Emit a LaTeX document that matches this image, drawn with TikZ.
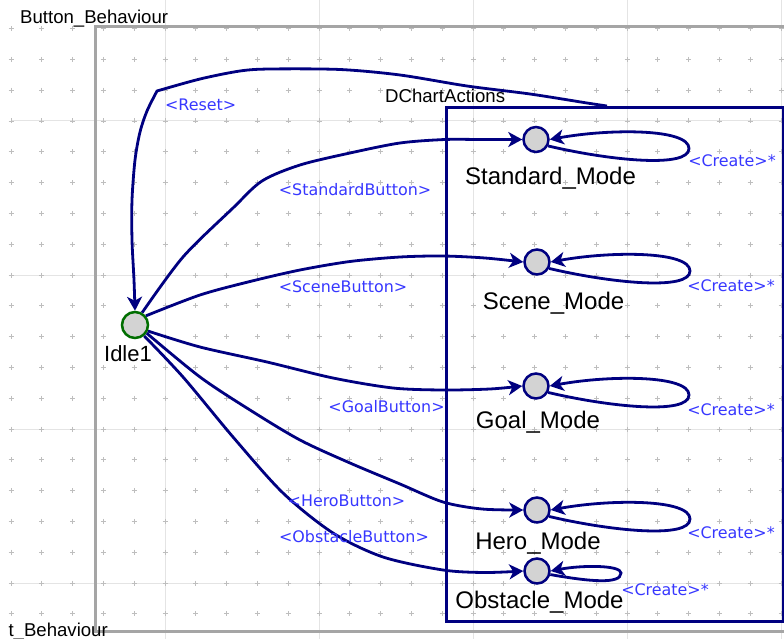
\documentclass[tikz,border=0pt]{standalone}
\usepackage{fontspec}
\setmainfont{Liberation Sans}
\newfontfamily\lblfont{DejaVu Sans}
\usetikzlibrary{arrows.meta,calc}

\definecolor{edgeblue}{RGB}{0,0,128}
\definecolor{lblblue}{RGB}{55,55,255}
\definecolor{framegray}{RGB}{165,165,165}
\definecolor{gridline}{RGB}{228,228,228}
\definecolor{gridmark}{RGB}{190,190,190}
\definecolor{statefill}{RGB}{211,211,211}
\definecolor{idlegreen}{RGB}{0,110,0}

\tikzset{
  mode/.style={circle, draw=edgeblue, line width=2.5bp, fill=statefill,
    minimum size=25bp, inner sep=0pt},
  idlestate/.style={mode, draw=idlegreen, minimum size=26bp},
  statename/.style={font=\fontsize{24bp}{28bp}\selectfont, text=black,
    inner sep=0pt, anchor=base},
  trlabel/.style={font=\lblfont\fontsize{15.9bp}{18bp}\selectfont,
    text=lblblue, inner sep=0pt, anchor=base},
  titletext/.style={font=\fontsize{18.6bp}{22bp}\selectfont, inner sep=0pt},
  trans/.style={draw=edgeblue, line width=2.8bp,
    -{Stealth[length=14bp,width=15bp,inset=4bp]}},
}

\begin{document}
\begin{tikzpicture}[x=1bp,y=-1bp]
\useasboundingbox (0,0) rectangle (784,639);
\clip (0,0) rectangle (784,639);
\fill[white] (0,0) rectangle (784,639);

% background grid: major lines and small crosses
\foreach \gx in {165,319,473,627,781}
  \draw[gridline, line width=1bp] (\gx,0) -- (\gx,639);
\foreach \gy in {121,275,429,583}
  \draw[gridline, line width=1bp] (11,\gy) -- (784,\gy);
\foreach \i in {0,...,25}
  \foreach \j in {0,...,19}
    \draw[gridmark, line width=0.9bp]
      ({11+30.8*\i-2.5},{28.6+30.8*\j}) -- ++(5,0)
      ({11+30.8*\i},{28.6+30.8*\j-2.5}) -- ++(0,5);

% chart frame
\draw[framegray, line width=3bp] (800,27) -- (95,27) -- (95,631) -- (800,631);
\node[titletext, anchor=base west] (title) at (20,23.3) {Button\_Behaviour};
\node[titletext, anchor=base east] (titlecut) at (108,636) {t\_Behaviour};

% DChartActions container
\node[draw=edgeblue, line width=2.6bp, minimum width=337bp, minimum height=514bp,
  inner sep=0pt, anchor=north west] (dca) at (445,106) {};
\node[titletext, anchor=base west] (dcatitle) at (385,103) {DChartActions};

% states
\node[idlestate] (idle) at (135,325) {};
\node[mode] (std)  at (536,139.5) {};
\node[mode] (scn)  at (537,262) {};
\node[mode] (goal) at (536,386) {};
\node[mode] (hero) at (537,510) {};
\node[mode] (obs)  at (537,571) {};

\node[statename] (idlename) at (128,361.5) {\fontsize{22bp}{26bp}\selectfont Idle1};
\node[statename] (stdname)  at (550.5,185) {Standard\_Mode};
\node[statename] (scnname)  at (553.5,309) {Scene\_Mode};
\node[statename] (goalname) at (538,428) {Goal\_Mode};
\node[statename] (heroname) at (538,549) {Hero\_Mode};
\node[statename] (obsname)  at (539.5,608) {Obstacle\_Mode};

% reset transition back to Idle1
\draw[trans] plot[smooth] coordinates {([xshift=162bp]dca.north west) (587,103)
    (530,94) (467,86) (400,75) (340,69.5) (270,69) (240,71) (200,79) (157,91)}
  -- plot[smooth] coordinates {(157,91) (147,111) (140,132) (135,160) (132,200)
    (132,240) (134,280) (idle.north)};

% button transitions
\draw[trans] plot[smooth] coordinates {(idle.60) (183,257) (233,208) (262,181)
    (300,165) (350,153) (400,143) (445,139.5) (480,139.5) (std.west)};
\draw[trans] plot[smooth] coordinates {(idle.40) (200,295) (250,281.5) (300,270)
    (350,261.5) (400,257) (443,256) (485,258) (scn.west)};
\draw[trans] plot[smooth] coordinates {(idle.-25) (200,347) (267,362) (333,378)
    (393,388) (443,390) (490,389) (goal.west)};
\draw[trans] plot[smooth] coordinates {(idle.-35) (200,377) (250,410) (300,440)
    (350,463) (400,484) (443,502) (482,509) (hero.west)};
\draw[trans] plot[smooth] coordinates {(idle.-50) (183,377) (233,437) (283,493)
    (333,533) (383,557) (443,570) (485,572.5) (obs.west)};

% self loops
\foreach \m in {std,scn,goal,hero}
  \draw[trans] (\m.-28) .. controls ($(\m)+(74,21)$) and ($(\m)+(153,29)$)
    .. ($(\m)+(153,9)$) .. controls ($(\m)+(153,-11)$) and ($(\m)+(74,-11)$)
    .. (\m.east);
\draw[trans] (obs.-15) .. controls ($(obs)+(50,10)$) and ($(obs)+(84,14)$)
  .. ($(obs)+(84,2)$) .. controls ($(obs)+(84,-6)$) and ($(obs)+(45,-6)$)
  .. (obs.east);

% transition labels
\node[trlabel] (lreset) at (200.7,110.5) {<Reset>};
\node[trlabel] (lstd)   at (355,195.5) {<StandardButton>};
\node[trlabel] (lscn)   at (343,292.5) {<SceneButton>};
\node[trlabel] (lgoal)  at (386.5,412.8) {<GoalButton>};
\node[trlabel] (lhero)  at (346.5,506.5) {<HeroButton>};
\node[trlabel] (lobs)   at (354,542) {<ObstacleButton>};
\node[trlabel] (cstd)   at (732,166.5) {<Create>*};
\node[trlabel] (cscn)   at (731,291.5) {<Create>*};
\node[trlabel] (cgoal)  at (731,415.5) {<Create>*};
\node[trlabel] (chero)  at (731,538.5) {<Create>*};
\node[trlabel] (cobs)   at (665,595.5) {<Create>*};
\end{tikzpicture}
\end{document}
